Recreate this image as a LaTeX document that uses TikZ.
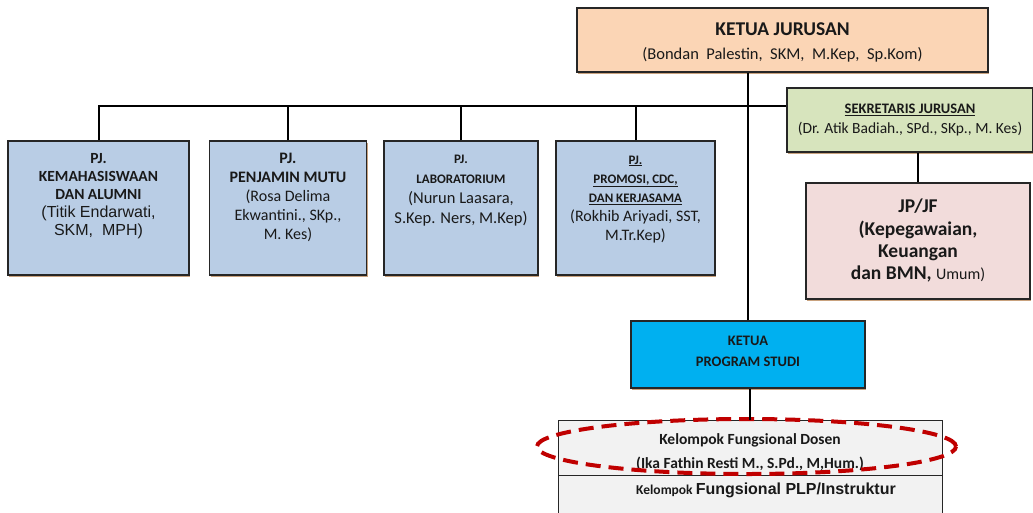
\documentclass[tikz,border=0pt]{standalone}
\usepackage{fontspec}
\setmainfont{Carlito}
\newfontfamily\arialfont{Liberation Sans}
\usepackage{tikz}
\usetikzlibrary{calc,shadows,shapes.geometric}

\definecolor{peach}{HTML}{FBD5B5}
\definecolor{paleblue}{HTML}{B9CDE5}
\definecolor{palegreen}{HTML}{D7E4BD}
\definecolor{palepink}{HTML}{F2DCDB}
\definecolor{cyanbox}{HTML}{00B0F0}
\definecolor{lightgray}{HTML}{F2F2F2}
\definecolor{darkred}{HTML}{C00000}
\definecolor{shadowtan}{HTML}{C9A27E}

\begin{document}
\begin{tikzpicture}[x=1pt,y=-1pt,inner sep=0pt,
	unit/.style={draw=black!85,line width=1.2pt,drop shadow={shadow xshift=1.2pt,shadow yshift=-2pt,fill=shadowtan,opacity=1}},
	pjbox/.style={unit,fill=paleblue,minimum width=#1,minimum height=134},
	txt/.style={align=center,anchor=north,text=black!90},
	link/.style={line width=2pt,black}]

	\clip (0,0) rectangle (1033,512);
	\fill[white] (0,0) rectangle (1033,512);

	% kepala jurusan
	\node at (782.5,40) [unit,fill=peach,minimum width=411,minimum height=64] (kj) {};
	\node at (782.5,22.5) [txt,font=\fontsize{16.5}{24}\selectfont] (kjtext) {\textbf{\fontsize{19.5}{24}\selectfont KETUA JURUSAN}\\(Bondan\ \ Palestin,\ \ SKM,\ \ M.Kep,\ \ Sp.Kom)};

	\node at (910,120) [unit,fill=palegreen,minimum width=246,minimum height=64] (sek) {};
	\node at (910,104) [txt,font=\fontsize{15.5}{20}\selectfont] (sektext) {\textbf{\underline{\fontsize{14.5}{20}\selectfont SEKRETARIS JURUSAN}}\\(Dr. Atik Badiah., SPd., SKp., M. Kes)};

	\node at (918,241) [unit,fill=palepink,minimum width=224,minimum height=116] (jp) {};
	\node at (918,199) [txt,font=\bfseries\fontsize{19.5}{22.2}\selectfont] (jptext) {JP/JF\\(Kepegawaian,\\Keuangan\\dan BMN, {\mdseries\fontsize{16}{22.2}\selectfont Umum)}};

	% penanggung jawab
	\node at (98.5,208) [pjbox=181] (pj1) {};
	\node at (288,208) [pjbox=157] (pj2) {};
	\node at (461,208) [pjbox=154] (pj3) {};
	\node at (635.5,208) [pjbox=159] (pj4) {};

	\node at (98.5,153) [txt,font=\bfseries\fontsize{15.5}{18}\selectfont] (pj1text) {PJ.\\KEMAHASISWAAN\\DAN ALUMNI\\{\mdseries\arialfont\fontsize{16}{18}\selectfont (Titik Endarwati,}\\{\mdseries\arialfont\fontsize{16}{18}\selectfont SKM,\ \ MPH)}};
	\node at (288,153) [txt,font=\fontsize{16}{19}\selectfont] (pj2text) {\textbf{PJ.}\\\textbf{PENJAMIN MUTU}\\(Rosa Delima\\Ekwantini., SKp.,\\M. Kes)};
	\node at (461,155) [txt,font=\fontsize{16.5}{20}\selectfont] (pj3text) {\textbf{\fontsize{13}{20}\selectfont PJ.}\\\textbf{\fontsize{13}{20}\selectfont LABORATORIUM}\\(Nurun Laasara,\\S.Kep. Ners, M.Kep)};
	\node at (635.5,155.5) [txt,font=\fontsize{16}{19.2}\selectfont] (pj4text) {\textbf{\fontsize{13}{19}\selectfont\underline{PJ.}}\\\textbf{\fontsize{13}{19}\selectfont\underline{PROMOSI, CDC,}}\\\textbf{\fontsize{13}{19}\selectfont\underline{DAN KERJASAMA}}\\(Rokhib Ariyadi, SST,\\M.Tr.Kep)};

	% program studi
	\node at (748,354.5) [unit,fill=cyanbox,minimum width=234,minimum height=67] (kps) {};
	\node at (748,336) [txt,font=\bfseries\fontsize{14.5}{21}\selectfont] (kpstext) {KETUA\\PROGRAM STUDI};

	\node at (750,447.5) [draw=black!85,line width=1pt,fill=lightgray,minimum width=384,minimum height=55] (kfd) {};
	\node at (750,500) [draw=black!85,line width=1pt,fill=lightgray,minimum width=384,minimum height=50] (kfp) {};
	\node at (750,433) [txt,font=\bfseries\fontsize{15.5}{24}\selectfont] (kfdtext) {Kelompok Fungsional Dosen\\(Ika Fathin Resti M., S.Pd., M,Hum.)};
	\node at (766,483) [txt,font=\bfseries] (kfptext) {\fontsize{13.5}{16}\selectfont Kelompok {\arialfont\fontsize{16}{16}\selectfont Fungsional PLP/Instruktur}};

	\node at (746.5,446.5) [ellipse,draw=darkred,line width=4pt,dash pattern=on 15pt off 8pt,minimum width=419,minimum height=55] (mark) {};

	% garis
	\coordinate (bus) at (748,106);
	\draw[link] (kps.north) -- (kps.north |- kj.south);
	\draw[link] (pj1.north) |- (sek.west |- bus);
	\foreach \i in {2,3,4}{
		\draw[link] (pj\i.north) -- (pj\i.north |- bus);
	}
	\draw[link] (jp.north) -- (jp.north |- sek.south);
	\draw[link] (kfd.north) -- (kfd.north |- kps.south);

\end{tikzpicture}
\end{document}
